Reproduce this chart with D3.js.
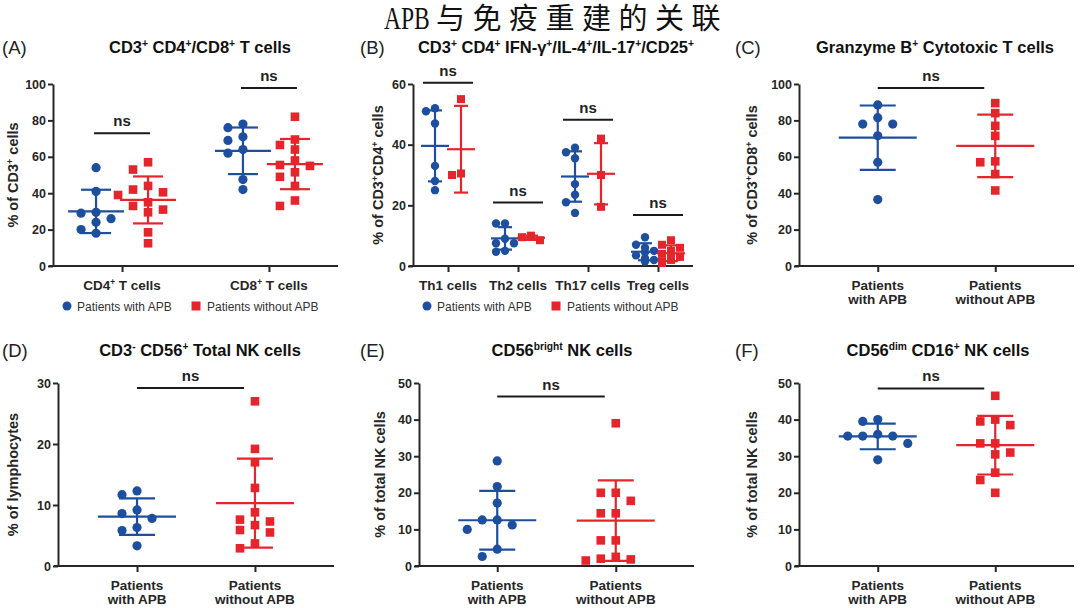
<!DOCTYPE html>
<html>
<head>
<meta charset="utf-8">
<script src="https://cdn.jsdelivr.net/npm/d3@7"></script>
<style>
  body { margin: 0; background: #fff; }
  svg { display: block; font-family: "Liberation Sans", Arial, sans-serif; }
</style>
</head>
<body>
<svg id="chart" width="1080" height="608"></svg>
<script>
var blue = "#1d4f9e", red = "#e4262c", ink = "#262626";

// ---- data ----
// (A) CD3+ CD4+/CD8+ T cells
var aCats = ["CD4^{+} T cells", "CD8^{+} T cells"];
var aWith = [[54, 41, 29.5, 29, 26, 24, 20, 18], [78, 76, 71, 69, 64, 62, 47.5, 42]];
var aWithout = [[57, 53, 44, 42, 40.5, 39, 35, 33, 31, 29.5, 18.5, 12.5],
                [82, 69.5, 66.5, 64, 58, 55.5, 55, 51.5, 49, 44, 36, 33]];
var aMeanWith = [30, 63.3], aSdWith = [11.9, 12.8];
var aMeanWithout = [36.3, 56], aSdWithout = [12.9, 13.8];
var aSig = [73, 97.8];

// (B) Th subsets
var bCats = ["Th1 cells", "Th2 cells", "Th17 cells", "Treg cells"];
var bWith = [[52, 51, 47, 33, 28, 25], [14, 14, 9, 7.5, 7.5, 5, 4.7],
             [39, 37.5, 35.5, 27, 23.5, 21, 17.5], [9.5, 7, 6, 5, 4.5, 3.5, 2.5, 2, 1.5]];
var bWithout = [[55, 30.5, 30], [10, 9.5, 8.5], [42, 30, 19.5], [8.5, 7, 6, 5, 4, 3, 2.5, 2, 1.5, 1]];
var bMeanWith = [39.6, 9.1, 29.5, 4.7], bSdWith = [11.7, 3.7, 8.3, 2.8];
var bMeanWithout = [38.5, 9.3, 30.4, 4.2], bSdWithout = [14.3, 0.7, 10.1, 2.6];
var bSig = [60.4, 20.9, 48.2, 16.8];

var groupCats = ["Patients|with APB", "Patients|without APB"];

// (C) Granzyme B+ cytotoxic T cells
var cWith = [88.5, 81.5, 78, 78, 71.5, 57, 36.5];
var cWithout = [89.5, 84, 77, 71.5, 57.5, 57, 50.5, 41.5];
var cMean = [70.5, 66], cSd = [17.7, 17.2], cSig = 97.8;

// (D) CD3- CD56+ total NK cells
var dWith = [12.3, 11.7, 9.2, 8.6, 7.8, 6.3, 5.8, 3.3];
var dWithout = [27, 19.2, 17, 12.8, 8.8, 7.6, 7.3, 6.7, 5.9, 5.5, 3.7, 2.9];
var dMean = [8.1, 10.3], dSd = [3, 7.3], dSig = 29.2;

// (E) CD56bright NK cells
var eWith = [28.7, 21.7, 17.2, 12.6, 12.6, 11.2, 10, 4.6, 2.6];
var eWithout = [39, 20, 20, 17.8, 14.4, 14.4, 7, 7, 2.5, 2, 1.8, 1.5];
var eMean = [12.5, 12.4], eSd = [8, 11], eSig = 46.3;

// (F) CD56dim CD16+ NK cells
var fWith = [40, 39.5, 36, 35.5, 35.5, 35.5, 33.5, 29];
var fWithout = [46.5, 40, 39.5, 38.5, 33.5, 33.5, 31, 30.5, 25.5, 23.5, 20];
var fMean = [35.4, 33], fSd = [3.5, 8], fSig = 48.5;

var svg = d3.select("#chart");

// text with ^{...} superscripts
function rich(sel, str, fs) {
  var parts = str.split(/(\^\{[^}]*\})/).filter(function(s){ return s.length; });
  var up = false;
  parts.forEach(function(p) {
    if (p.indexOf("^{") === 0) {
      sel.append("tspan").attr("font-size", fs * 0.62).attr("dy", up ? 0 : -fs * 0.38).text(p.slice(2, -1));
      up = true;
    } else {
      sel.append("tspan").attr("dy", up ? fs * 0.38 : 0).text(p);
      up = false;
    }
  });
  return sel;
}

// simple prism-like swarm: spread points that collide sideways
function swarm(vals, y, step, diam, maxK) {
  var placed = [];
  var order = [0];
  for (var k = 1; k <= maxK; k++) order.push(-k, k);
  return vals.slice().sort(function(a, b){ return b - a; }).map(function(v) {
    var py = y(v), best = 0, bestHits = Infinity;
    for (var i = 0; i < order.length; i++) {
      var hits = placed.filter(function(p){ return p.k === order[i] && Math.abs(p.py - py) < diam; }).length;
      if (hits < bestHits) { best = order[i]; bestHits = hits; }
      if (hits === 0) break;
    }
    placed.push({k: best, py: py});
    return {v: v, dx: best * step};
  });
}

function drawPanel(L, P) {
  var g = svg.append("g");
  var y = d3.scaleLinear().domain([0, P.max]).range([L.bottom, L.top]);
  var x = d3.scalePoint().domain(P.cats).range([L.left, L.right]).padding(L.pad);

  // y axis
  var ya = g.append("g").attr("transform", "translate(" + L.left + ",0)")
    .call(d3.axisLeft(y).tickValues(P.ticks).tickSize(5).tickSizeOuter(0).tickPadding(2));
  ya.select(".domain").attr("stroke", ink).attr("stroke-width", 2);
  ya.selectAll(".tick line").attr("stroke", ink).attr("stroke-width", 2);
  ya.selectAll(".tick text").attr("fill", ink).attr("font-size", 12.5).attr("font-weight", "bold")
    .attr("font-family", "Liberation Sans, Arial, sans-serif");

  // x axis
  var xa = g.append("g").attr("transform", "translate(0," + L.bottom + ")")
    .call(d3.axisBottom(x).tickSize(6).tickSizeOuter(0).tickFormat(""));
  xa.select(".domain").attr("d", "M" + (L.left - 4) + ",0H" + L.right).attr("stroke", ink).attr("stroke-width", 2);
  xa.selectAll(".tick line").attr("stroke", ink).attr("stroke-width", 2);

  // category labels
  P.cats.forEach(function(c) {
    c.split("|").forEach(function(line, li) {
      var t = g.append("text").attr("x", x(c)).attr("y", L.bottom + 24 + li * 14)
        .attr("text-anchor", "middle").attr("font-size", 13.5).attr("font-weight", "bold").attr("fill", ink);
      rich(t, line, 13.5);
    });
  });

  // y label
  var yl = g.append("text").attr("transform", "translate(" + L.ylabX + "," + (L.top + L.bottom) / 2 + ") rotate(-90)")
    .attr("text-anchor", "middle").attr("font-size", 14.5).attr("font-weight", "bold").attr("fill", ink);
  rich(yl, P.ylabel, 14.5);

  // title + letter
  var tt = g.append("text").attr("x", L.titleX).attr("y", L.titleY).attr("text-anchor", "middle")
    .attr("font-size", 16.5).attr("font-weight", "bold").attr("fill", "#111");
  rich(tt, P.title, 16.5);
  g.append("text").attr("x", L.letterX).attr("y", L.titleY + 1).attr("font-size", 18.5).attr("fill", "#222").text(P.letter);

  // groups
  var groups = [];
  if (P.paired) {
    P.cats.forEach(function(c, i) {
      groups.push({cx: x(c) - L.off, vals: P.with[i], mean: P.meanWith[i], sd: P.sdWith[i], color: blue, shape: "c"});
      groups.push({cx: x(c) + L.off, vals: P.without[i], mean: P.meanWithout[i], sd: P.sdWithout[i], color: red, shape: "s"});
    });
  } else {
    groups.push({cx: x(P.cats[0]), vals: P.with, mean: P.mean[0], sd: P.sd[0], color: blue, shape: "c"});
    groups.push({cx: x(P.cats[1]), vals: P.without, mean: P.mean[1], sd: P.sd[1], color: red, shape: "s"});
  }

  groups.forEach(function(gr) {
    var pts = swarm(gr.vals, y, L.step, L.diam, L.maxK);
    var gg = g.append("g");
    if (gr.shape === "c") {
      gg.selectAll("circle").data(pts).enter().append("circle")
        .attr("cx", function(d){ return gr.cx + d.dx; }).attr("cy", function(d){ return y(d.v); })
        .attr("r", L.r).attr("fill", gr.color);
    } else {
      gg.selectAll("rect").data(pts).enter().append("rect")
        .attr("x", function(d){ return gr.cx + d.dx - L.sq / 2; }).attr("y", function(d){ return y(d.v) - L.sq / 2; })
        .attr("width", L.sq).attr("height", L.sq).attr("fill", gr.color);
    }
    var hi = y(gr.mean + gr.sd), lo = y(Math.max(0, gr.mean - gr.sd)), m = y(gr.mean);
    var segs = [
      [gr.cx, hi, gr.cx, lo],
      [gr.cx - L.meanHalf, m, gr.cx + L.meanHalf, m],
      [gr.cx - L.capHalf, hi, gr.cx + L.capHalf, hi],
      [gr.cx - L.capHalf, lo, gr.cx + L.capHalf, lo]
    ];
    gg.selectAll("line").data(segs).enter().append("line")
      .attr("x1", function(d){ return d[0]; }).attr("y1", function(d){ return d[1]; })
      .attr("x2", function(d){ return d[2]; }).attr("y2", function(d){ return d[3]; })
      .attr("stroke", gr.color).attr("stroke-width", 2.2);
  });

  // ns bars
  var sigs = P.paired
    ? P.cats.map(function(c, i){ return {x1: x(c) - L.sigHalf, x2: x(c) + L.sigHalf, v: P.sig[i]}; })
    : [{x1: x(P.cats[0]), x2: x(P.cats[1]) - 11, v: P.sig}];
  sigs.forEach(function(s) {
    g.append("line").attr("x1", s.x1).attr("x2", s.x2).attr("y1", y(s.v)).attr("y2", y(s.v))
      .attr("stroke", "#1a1a1a").attr("stroke-width", 2);
    g.append("text").attr("x", (s.x1 + s.x2) / 2).attr("y", y(s.v) - 7).attr("text-anchor", "middle")
      .attr("font-size", 15).attr("font-weight", "bold").attr("fill", "#222").text("ns");
  });

  // legend
  if (L.legend) {
    var lg = g.append("g").attr("transform", "translate(" + L.legend + ",306)");
    lg.append("circle").attr("cx", 0).attr("cy", 0).attr("r", 4.5).attr("fill", blue);
    lg.append("text").attr("x", 10).attr("y", 4.5).attr("font-size", 12).attr("fill", "#333").text("Patients with APB");
    lg.append("rect").attr("x", 124.5).attr("y", -4.5).attr("width", 9).attr("height", 9).attr("fill", red);
    lg.append("text").attr("x", 140).attr("y", 4.5).attr("font-size", 12).attr("fill", "#333").text("Patients without APB");
  }
}

// main title: narrow serif "APB" followed by the Chinese text
svg.append("text").attr("transform", "translate(384,29) scale(0.76,1)")
  .attr("font-family", "Liberation Serif, serif").attr("font-size", 31).attr("fill", "#111").text("APB");
svg.append("text").attr("x", 436).attr("y", 29)
  .attr("font-family", "Noto Sans CJK SC, sans-serif").attr("font-size", 29)
  .attr("letter-spacing", 7.5).attr("fill", "#111").text("与免疫重建的关联");

var common = {step: 15, diam: 10, maxK: 2, r: 4.6, sq: 8.6};
function lay(o) { return Object.assign({}, common, o); }

drawPanel(lay({left: 53, right: 338, top: 84, bottom: 266, pad: 0.47, off: 26, meanHalf: 28, capHalf: 15,
               sigHalf: 28, ylabX: 18, titleX: 200, titleY: 53, letterX: 2, legend: 67}),
  {paired: true, cats: aCats, with: aWith, without: aWithout, meanWith: aMeanWith, sdWith: aSdWith,
   meanWithout: aMeanWithout, sdWithout: aSdWithout, sig: aSig, max: 100, ticks: [0, 20, 40, 60, 80, 100],
   ylabel: "% of CD3^{+} cells", title: "CD3^{+} CD4^{+}/CD8^{+} T cells", letter: "(A)"});

drawPanel(lay({left: 413, right: 693, top: 84, bottom: 266, pad: 0.5, off: 13, meanHalf: 14, capHalf: 7,
               sigHalf: 25, step: 9, diam: 8, maxK: 1, r: 4.2, sq: 8, ylabX: 383, titleX: 556, titleY: 53, letterX: 360, legend: 427}),
  {paired: true, cats: bCats, with: bWith, without: bWithout, meanWith: bMeanWith, sdWith: bSdWith,
   meanWithout: bMeanWithout, sdWithout: bSdWithout, sig: bSig, max: 60, ticks: [0, 20, 40, 60],
   ylabel: "% of CD3^{+}CD4^{+} cells", title: "CD3^{+} CD4^{+} IFN-γ^{+}/IL-4^{+}/IL-17^{+}/CD25^{+}", letter: "(B)"});

drawPanel(lay({left: 799, right: 1074, top: 84, bottom: 266, pad: 0.67, meanHalf: 39, capHalf: 18,
               ylabX: 757, titleX: 935, titleY: 53, letterX: 735}),
  {paired: false, cats: groupCats, with: cWith, without: cWithout, mean: cMean, sd: cSd, sig: cSig,
   max: 100, ticks: [0, 20, 40, 60, 80, 100], ylabel: "% of CD3^{+}CD8^{+} cells",
   title: "Granzyme B^{+} Cytotoxic T cells", letter: "(C)"});

drawPanel(lay({left: 58, right: 334, top: 383, bottom: 566, pad: 0.67, meanHalf: 39, capHalf: 18,
               ylabX: 18, titleX: 200, titleY: 356, letterX: 2}),
  {paired: false, cats: groupCats, with: dWith, without: dWithout, mean: dMean, sd: dSd, sig: dSig,
   max: 30, ticks: [0, 10, 20, 30], ylabel: "% of lymphocytes",
   title: "CD3^{-} CD56^{+} Total NK cells", letter: "(D)"});

drawPanel(lay({left: 419, right: 694, top: 383, bottom: 566, pad: 0.66, meanHalf: 39, capHalf: 18,
               ylabX: 385, titleX: 562, titleY: 356, letterX: 360}),
  {paired: false, cats: groupCats, with: eWith, without: eWithout, mean: eMean, sd: eSd, sig: eSig,
   max: 50, ticks: [0, 10, 20, 30, 40, 50], ylabel: "% of total NK cells",
   title: "CD56^{bright} NK cells", letter: "(E)"});

drawPanel(lay({left: 799, right: 1074, top: 383, bottom: 566, pad: 0.67, meanHalf: 39, capHalf: 18,
               ylabX: 757, titleX: 938, titleY: 356, letterX: 735}),
  {paired: false, cats: groupCats, with: fWith, without: fWithout, mean: fMean, sd: fSd, sig: fSig,
   max: 50, ticks: [0, 10, 20, 30, 40, 50], ylabel: "% of total NK cells",
   title: "CD56^{dim} CD16^{+} NK cells", letter: "(F)"});
</script>
</body>
</html>
